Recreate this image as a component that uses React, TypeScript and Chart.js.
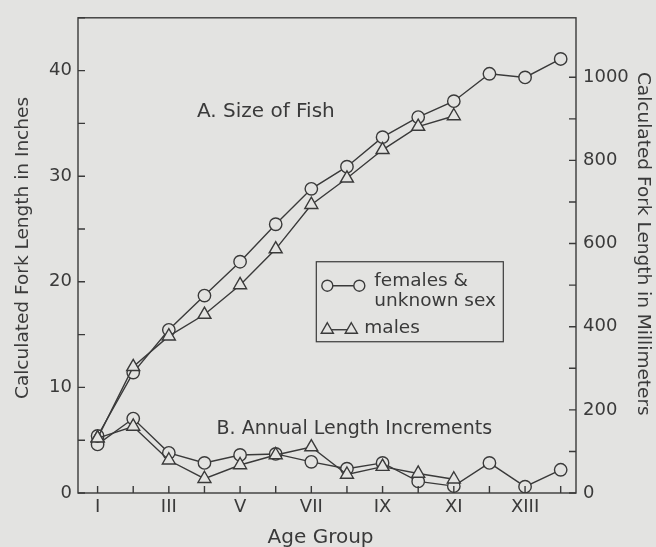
import React, { useEffect, useRef } from 'react';
import { Chart, registerables } from 'chart.js';

Chart.register(...registerables);

// ---------- data (inches) ----------
const ageGroups = ['I', 'II', 'III', 'IV', 'V', 'VI', 'VII', 'VIII', 'IX', 'X', 'XI', 'XII', 'XIII', 'XIV'];
const femaleSize = [5.4, 11.4, 15.45, 18.7, 21.9, 25.45, 28.8, 30.9, 33.7, 35.6, 37.1, 39.7, 39.35, 41.1];
const maleSize = [5.2, 11.95, 14.85, 16.9, 19.7, 23.1, 27.3, 29.8, 32.5, 34.7, 35.7];
const femaleIncrement = [4.6, 7.05, 3.8, 2.85, 3.6, 3.7, 2.95, 2.3, 2.85, 1.1, 0.65, 2.85, 0.6, 2.2];
const maleIncrement = [5.2, 6.3, 3.1, 1.35, 2.65, 3.6, 4.35, 1.75, 2.5, 1.85, 1.3];

const inchLabelStep = 10;
const inchTickStep = 5;
const inchMax = 45;
const mmPerInch = 25.4;
const mmLabelStep = 200;
const mmTickStep = 100;

const titleLeft = 'Calculated Fork Length in Inches';
const titleRight = 'Calculated Fork Length in Millimeters';
const titleBottom = 'Age Group';
const noteA = 'A. Size of Fish';
const noteB = 'B. Annual Length Increments';
const legendFemale = ['females &', 'unknown sex'];
const legendMale = 'males';

// ---------- styles ----------
const INK = '#3a3a3a';
const BG = '#e3e3e1';
const FONT = '"DejaVu Sans", sans-serif';
const W = 656;
const H = 547;

const toPoints = (arr: number[]) => arr.map((y, i) => ({ x: i + 1, y }));

function drawTriangle(ctx: CanvasRenderingContext2D, x: number, y: number, r: number) {
  let rad = 0;
  ctx.beginPath();
  ctx.moveTo(x + Math.sin(rad) * r, y - Math.cos(rad) * r);
  rad += (2 * Math.PI) / 3;
  ctx.lineTo(x + Math.sin(rad) * r, y - Math.cos(rad) * r);
  rad += (2 * Math.PI) / 3;
  ctx.lineTo(x + Math.sin(rad) * r, y - Math.cos(rad) * r);
  ctx.closePath();
  ctx.fill();
  ctx.stroke();
}

function drawCircle(ctx: CanvasRenderingContext2D, x: number, y: number, r: number) {
  ctx.beginPath();
  ctx.arc(x, y, r, 0, Math.PI * 2);
  ctx.fill();
  ctx.stroke();
}

const decorPlugin = {
  id: 'decor',
  beforeDraw(chart: any) {
    const { ctx } = chart;
    ctx.save();
    ctx.fillStyle = BG;
    ctx.fillRect(0, 0, chart.width, chart.height);
    ctx.restore();
  },
  afterDraw(chart: any) {
    const { ctx, chartArea: a, scales } = chart;
    const xs = scales.x;
    const ys = scales.y;
    const ys2 = scales.y2;
    ctx.save();
    ctx.strokeStyle = INK;
    ctx.fillStyle = INK;
    ctx.lineWidth = 1.4;
    // frame
    ctx.strokeRect(a.left, a.top, a.right - a.left, a.bottom - a.top);
    // inward tick marks
    const TL = 7;
    ctx.beginPath();
    xs.ticks.forEach((t: any) => {
      const px = xs.getPixelForValue(t.value);
      ctx.moveTo(px, a.bottom);
      ctx.lineTo(px, a.bottom - TL);
    });
    ys.ticks.forEach((t: any) => {
      const py = ys.getPixelForValue(t.value);
      ctx.moveTo(a.left, py);
      ctx.lineTo(a.left + TL, py);
    });
    ys2.ticks.forEach((t: any) => {
      const py = ys2.getPixelForValue(t.value);
      ctx.moveTo(a.right, py);
      ctx.lineTo(a.right - TL, py);
    });
    ctx.stroke();

    // axis titles
    ctx.textAlign = 'center';
    ctx.textBaseline = 'alphabetic';
    ctx.font = `18.5px ${FONT}`;
    ctx.save();
    ctx.translate(28, ys.getPixelForValue(23.2));
    ctx.rotate(-Math.PI / 2);
    ctx.fillText(titleLeft, 0, 0);
    ctx.restore();
    ctx.save();
    ctx.translate(638, ys.getPixelForValue(23.6));
    ctx.rotate(Math.PI / 2);
    ctx.fillText(titleRight, 0, 0);
    ctx.restore();
    ctx.font = `20px ${FONT}`;
    ctx.fillText(titleBottom, xs.getPixelForValue(7.26), 542.5);

    // in-plot notes
    ctx.textAlign = 'left';
    ctx.font = `20px ${FONT}`;
    ctx.fillText(noteA, xs.getPixelForValue(3.79), ys.getPixelForValue(35.6));
    ctx.font = `19px ${FONT}`;
    ctx.fillText(noteB, xs.getPixelForValue(4.34), ys.getPixelForValue(5.6));

    // legend box
    const bx = xs.getPixelForValue(7.14);
    const by = ys.getPixelForValue(21.9);
    const bw = 187;
    const bh = 80;
    ctx.lineWidth = 1.2;
    ctx.strokeRect(bx, by, bw, bh);
    ctx.lineWidth = 1.4;
    // female entry
    const fy = by + 24;
    ctx.beginPath();
    ctx.moveTo(bx + 11, fy);
    ctx.lineTo(bx + 43, fy);
    ctx.stroke();
    ctx.fillStyle = BG;
    drawCircle(ctx, bx + 11, fy, 5.5);
    drawCircle(ctx, bx + 43, fy, 5.5);
    // male entry
    const my = by + 68;
    ctx.beginPath();
    ctx.moveTo(bx + 11, my);
    ctx.lineTo(bx + 35, my);
    ctx.stroke();
    drawTriangle(ctx, bx + 11, my, 7);
    drawTriangle(ctx, bx + 35, my, 7);
    ctx.fillStyle = INK;
    ctx.font = `18.5px ${FONT}`;
    ctx.fillText(legendFemale[0], bx + 58, by + 24);
    ctx.fillText(legendFemale[1], bx + 58, by + 44);
    ctx.fillText(legendMale, bx + 48, by + 71);
    ctx.restore();
  },
};

export default function App() {
  const canvasRef = useRef<HTMLCanvasElement | null>(null);

  useEffect(() => {
    if (!canvasRef.current) return;
    const lineCommon = {
      borderColor: INK,
      borderWidth: 1.4,
      pointBorderColor: INK,
      pointBackgroundColor: BG,
      pointBorderWidth: 1.4,
      fill: false,
      tension: 0,
    };
    const noGrid = { display: false, drawTicks: false, tickLength: 0 };
    const chart = new Chart(canvasRef.current, {
      type: 'line',
      data: {
        datasets: [
          { ...lineCommon, label: 'males size', data: toPoints(maleSize), pointStyle: 'triangle', pointRadius: 7.5 },
          { ...lineCommon, label: 'males increment', data: toPoints(maleIncrement), pointStyle: 'triangle', pointRadius: 7.5 },
          { ...lineCommon, label: 'females size', data: toPoints(femaleSize), pointStyle: 'circle', pointRadius: 6.2 },
          { ...lineCommon, label: 'females increment', data: toPoints(femaleIncrement), pointStyle: 'circle', pointRadius: 6.2 },
        ],
      },
      options: {
        responsive: false,
        animation: false,
        layout: { padding: { top: 13, left: 0, right: 0, bottom: 0 } },
        plugins: { legend: { display: false }, tooltip: { enabled: false } },
        scales: {
          x: {
            type: 'linear',
            min: 0.45,
            max: 14.43,
            grid: noGrid,
            border: { display: false },
            afterBuildTicks: (s: any) => {
              s.ticks = ageGroups.map((_, i) => ({ value: i + 1 }));
            },
            afterFit: (s: any) => {
              s.height = 54;
            },
            ticks: {
              color: INK,
              font: { family: FONT, size: 18 },
              padding: 4,
              autoSkip: false,
              maxRotation: 0,
              callback: (v: any) => {
                const i = Math.round(Number(v)) - 1;
                return i % 2 === 0 ? ageGroups[i] : '';
              },
            },
          },
          y: {
            type: 'linear',
            position: 'left',
            min: 0,
            max: inchMax,
            grid: noGrid,
            border: { display: false },
            afterFit: (s: any) => {
              s.width = 78;
            },
            ticks: {
              stepSize: inchTickStep,
              color: INK,
              font: { family: FONT, size: 18 },
              padding: 6,
              callback: (v: any) => (Number(v) % inchLabelStep === 0 ? String(v) : ''),
            },
          },
          y2: {
            type: 'linear',
            position: 'right',
            min: 0,
            max: inchMax * mmPerInch,
            grid: noGrid,
            border: { display: false },
            afterBuildTicks: (s: any) => {
              s.ticks = s.ticks.filter((t: any) => t.value % mmTickStep === 0);
            },
            afterFit: (s: any) => {
              s.width = 80;
            },
            ticks: {
              stepSize: mmTickStep,
              color: INK,
              font: { family: FONT, size: 18 },
              padding: 7,
              callback: (v: any) => (Number(v) % mmLabelStep === 0 ? String(v) : ''),
            },
          },
        },
      },
      plugins: [decorPlugin],
    } as any);
    return () => chart.destroy();
  }, []);

  return (
    <div style={{ position: 'fixed', left: 0, top: 0, width: W, height: H, background: BG }}>
      <canvas ref={canvasRef} width={W} height={H} style={{ display: 'block' }} />
    </div>
  );
}
